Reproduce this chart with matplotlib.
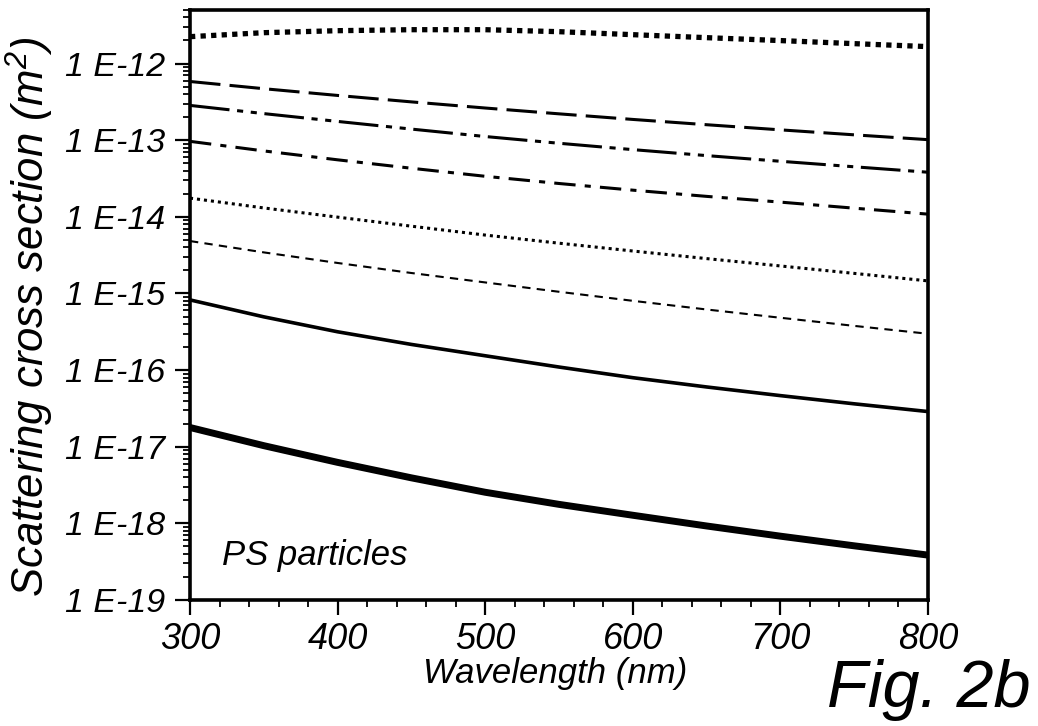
import numpy as np
import matplotlib
matplotlib.use('Agg')
import matplotlib.pyplot as plt
from matplotlib.ticker import FixedLocator, MultipleLocator, LogLocator, NullFormatter

plt.rcParams['font.family'] = ['Liberation Sans', 'DejaVu Sans']
plt.rcParams['font.style'] = 'italic'
plt.rcParams['mathtext.fontset'] = 'custom'
plt.rcParams['mathtext.rm'] = 'Liberation Sans:italic'
plt.rcParams['mathtext.it'] = 'Liberation Sans:italic'
plt.rcParams['mathtext.default'] = 'regular'

# wavelength samples (nm)
wavelength = [300, 350, 400, 450, 500, 550, 600, 650, 700, 750, 800]

# scattering cross sections (m^2), log10 values
log_c1 = [-11.649, -11.597, -11.571, -11.558, -11.558, -11.584, -11.623, -11.662, -11.700, -11.740, -11.779]
log_c2 = [-12.234, -12.328, -12.416, -12.500, -12.580, -12.656, -12.729, -12.798, -12.865, -12.930, -12.993]
log_c3 = [-12.546, -12.653, -12.755, -12.855, -12.952, -13.040, -13.123, -13.201, -13.275, -13.347, -13.418]
log_c4 = [-13.015, -13.140, -13.256, -13.366, -13.471, -13.565, -13.652, -13.733, -13.808, -13.887, -13.965]
log_c5 = [-13.756, -13.884, -14.004, -14.122, -14.238, -14.344, -14.446, -14.545, -14.641, -14.738, -14.836]
log_c6 = [-14.316, -14.464, -14.602, -14.733, -14.856, -14.978, -15.096, -15.209, -15.317, -15.423, -15.526]
log_c7 = [-15.084, -15.305, -15.500, -15.665, -15.813, -15.960, -16.099, -16.220, -16.333, -16.440, -16.541]
log_c8 = [-16.749, -16.986, -17.204, -17.406, -17.594, -17.752, -17.894, -18.034, -18.167, -18.293, -18.414]

ytick_vals = [1e-19, 1e-18, 1e-17, 1e-16, 1e-15, 1e-14, 1e-13, 1e-12]
ytick_labels = ['1 E-19', '1 E-18', '1 E-17', '1 E-16', '1 E-15', '1 E-14', '1 E-13', '1 E-12']
xtick_vals = [300, 400, 500, 600, 700, 800]


def main():
    fig = plt.figure(figsize=(10.38, 7.26), dpi=100)
    ax = fig.add_axes([190 / 1038, 1 - 600 / 726, 738 / 1038, 590 / 726])

    x = np.array(wavelength)
    styles = [
        (log_c1, dict(lw=3.8, dashes=(1.0, 1.0), dash_capstyle='butt')),
        (log_c2, dict(lw=2.2, dashes=(10, 3))),
        (log_c3, dict(lw=2.2, dashes=(13, 2.5, 2, 2.5, 2, 2.5))),
        (log_c4, dict(lw=2.2, dashes=(7, 3, 2, 3))),
        (log_c5, dict(lw=2.2, dashes=(1, 1.3))),
        (log_c6, dict(lw=1.5, dashes=(4, 3))),
        (log_c7, dict(lw=2.6, ls='-')),
        (log_c8, dict(lw=5.0, ls='-')),
    ]
    for vals, kw in styles:
        ax.plot(x, 10 ** np.array(vals), color='black', **kw)

    ax.set_yscale('log')
    ax.set_xlim(300, 800)
    ax.set_ylim(1e-19, 5e-12)

    ax.yaxis.set_major_locator(FixedLocator(ytick_vals))
    ax.set_yticklabels(ytick_labels)
    ax.yaxis.set_minor_locator(LogLocator(base=10, subs=np.arange(2, 10), numticks=50))
    ax.yaxis.set_minor_formatter(NullFormatter())
    ax.xaxis.set_major_locator(FixedLocator(xtick_vals))
    ax.xaxis.set_minor_locator(MultipleLocator(20))

    ax.tick_params(which='major', direction='out', length=11, width=1.6, pad=7)
    ax.tick_params(axis='y', which='major', labelsize=24.5)
    ax.tick_params(axis='x', which='major', labelsize=26, pad=5)
    ax.tick_params(which='minor', direction='out', length=5, width=1.3)
    for lab in ax.get_xticklabels() + ax.get_yticklabels():
        lab.set_fontstyle('italic')

    for s in ax.spines.values():
        s.set_linewidth(2.6)

    ax.set_xlabel('Wavelength (nm)', fontsize=25)
    ax.xaxis.set_label_coords(0.495, -0.097)
    ax.set_ylabel('Scattering cross section (m$^2$)', fontsize=31.5)
    ax.yaxis.set_label_coords(-0.181, 0.48)

    ax.text(0.043, 0.076, 'PS particles', transform=ax.transAxes,
            fontsize=25, va='center', ha='left')
    fig.text(0.993, 0.05, 'Fig. 2b', fontsize=48, ha='right', va='center')

    plt.savefig('out.png', dpi=100)
    plt.close()


if __name__ == '__main__':
    main()
